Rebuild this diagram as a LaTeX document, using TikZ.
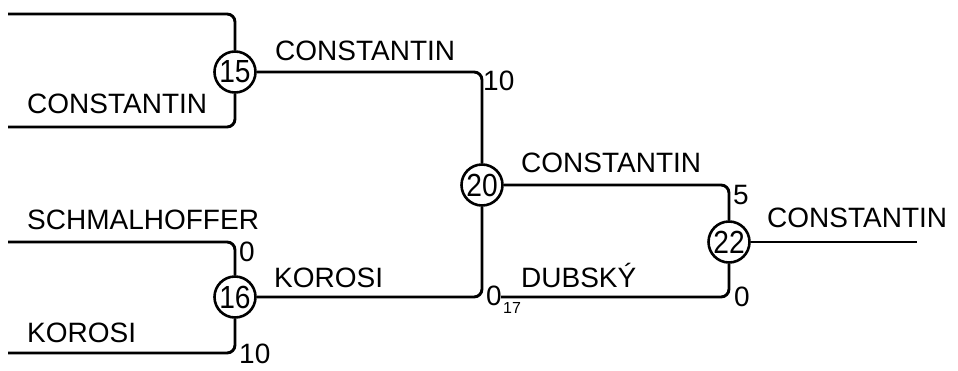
\documentclass[tikz,border=0pt]{standalone}
\usepackage{fontspec}
\setmainfont{Liberation Sans}
\newcommand{\tnum}[1]{\scalebox{0.88}[1]{#1}}
\begin{document}
\begin{tikzpicture}[x=1pt,y=-1pt,
  wire/.style={line width=2.9pt,rounded corners=8pt},
  team/.style={circle,draw,line width=2.6pt,minimum size=41pt,inner sep=0pt,fill=white,font=\fontsize{32}{32}\selectfont},
  lab/.style={anchor=base west,inner sep=0pt,font=\fontsize{28}{30}\selectfont},
  sub/.style={anchor=base west,inner sep=0pt,font=\fontsize{16}{18}\selectfont}]
\useasboundingbox (0,0) rectangle (958,370);
% circles
\node[team] (c15) at (235,72) {\tnum{15}};
\node[team] (c16) at (235,297) {\tnum{16}};
\node[team] (c20) at (482,185) {\tnum{20}};
\node[team] (c22) at (729,242) {\tnum{22}};
% free ends
\coordinate (a1) at (8,14);
\coordinate (a2) at (8,127);
\coordinate (b1) at (8,242);
\coordinate (b2) at (8,353);
\coordinate (d0) at (501,297);
\coordinate (e) at (917,242);
% wires
\draw[wire] (a1) -| (c15);
\draw[wire] (a2) -| (c15);
\draw[wire] (b1) -| (c16);
\draw[wire] (b2) -| (c16);
\draw[wire] (c15) -| (c20);
\draw[wire] (c16) -| (c20);
\draw[wire] (c20) -| (c22);
\draw[wire] (d0) -| (c22);
\draw[wire] (c22) -- (e);
% labels
\node[lab] (l1) at (27,113) {CONSTANTIN};
\node[lab] (l2) at (27,229) {SCHMALHOFFER};
\node[lab] (l3) at (27,342) {KOROSI};
\node[lab] (l4) at (275,60) {CONSTANTIN};
\node[lab] (l5) at (274,287) {KOROSI};
\node[lab] (l6) at (521,172) {CONSTANTIN};
\node[lab] (l7) at (521,287) {DUBSKÝ};
\node[lab] (l8) at (767,227) {CONSTANTIN};
% scores
\node[lab] (s1) at (483,90) {10};
\node[lab] (s2) at (239,261) {0};
\node[lab] (s3) at (239,363) {10};
\node[lab] (s4) at (486,305) {0};
\node[sub] (s4b) at (503,313) {17};
\node[lab] (s5) at (733,204) {5};
\node[lab] (s6) at (734,306) {0};
\end{tikzpicture}
\end{document}
